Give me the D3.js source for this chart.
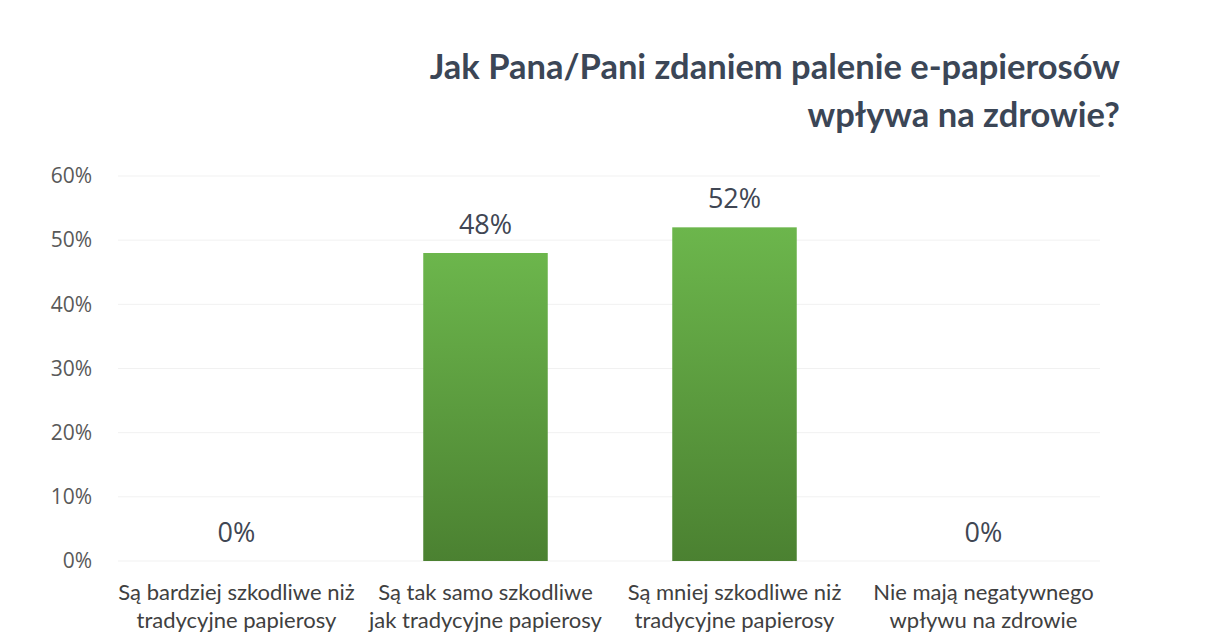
<!DOCTYPE html>
<html><head><meta charset="utf-8">
<script src="https://cdn.jsdelivr.net/npm/d3@7"></script>
<style>
html,body{margin:0;padding:0;background:#fff;}
svg{display:block;}
</style></head>
<body>
<svg id="chart" width="1209" height="632"></svg>
<script>
const titleLines = ["Jak Pana/Pani zdaniem palenie e-papierosów", "wpływa na zdrowie?"];
const categories = [
  ["Są bardziej szkodliwe niż", "tradycyjne papierosy"],
  ["Są tak samo szkodliwe", "jak tradycyjne papierosy"],
  ["Są mniej szkodliwe niż", "tradycyjne papierosy"],
  ["Nie mają negatywnego", "wpływu na zdrowie"]
];
const values = [0, 0.48, 0.52, 0];
const yTicks = [0, 0.1, 0.2, 0.3, 0.4, 0.5, 0.6];

(function(){
const svg = d3.select("#chart");
const defs = svg.append("defs");
const grad = defs.append("linearGradient").attr("id","g").attr("x1",0).attr("y1",0).attr("x2",0).attr("y2",1);
grad.append("stop").attr("offset","0%").attr("stop-color","#6cb64c");
grad.append("stop").attr("offset","100%").attr("stop-color","#4b8131");

const mLeft = 112, mRight = 1108, mTop = 176, mBottom = 561;
const x = d3.scaleBand().domain(d3.range(categories.length)).range([mLeft, mRight]).paddingInner(0.5).paddingOuter(0.25);
const y = d3.scaleLinear().domain([0, 0.6]).range([mBottom, mTop]);

svg.append("g").selectAll("line").data(yTicks).join("line")
  .attr("x1", 118).attr("x2", 1100)
  .attr("y1", d => y(d)).attr("y2", d => y(d))
  .attr("stroke", "#f1f1f1").attr("stroke-width", 1);

const yAxis = d3.axisLeft(y).tickValues(yTicks).tickFormat(d3.format(".0%")).tickSize(0).tickPadding(0);
const ya = svg.append("g").attr("transform", `translate(92,0)`).call(yAxis);
ya.select(".domain").remove();
ya.selectAll("text").attr("font-family","'Open Sans', sans-serif").attr("font-size",21).attr("fill","#595959");

svg.append("g").selectAll("rect").data(values).join("rect")
  .attr("x", (d,i) => x(i)).attr("width", x.bandwidth())
  .attr("y", d => y(d)).attr("height", d => y(0) - y(d))
  .attr("fill", "url(#g)");

svg.append("g").selectAll("text").data(values).join("text")
  .attr("x", (d,i) => x(i) + x.bandwidth()/2)
  .attr("y", d => y(d) - 19)
  .attr("text-anchor","middle")
  .attr("font-family","'Open Sans', sans-serif").attr("font-size",27)
  .attr("fill","#404653")
  .text(d => d3.format(".0%")(d));

const cg = svg.append("g").selectAll("text").data(categories).join("text")
  .attr("text-anchor","middle")
  .attr("font-family","Lato, sans-serif").attr("font-size",22)
  .attr("fill","#404040");
cg.selectAll("tspan").data((d,i) => d.map(t => ({t, i}))).join("tspan")
  .attr("x", d => x(d.i) + x.bandwidth()/2)
  .attr("y", (d,j) => 600 + j*28)
  .text(d => d.t);

svg.append("g").selectAll("text").data(titleLines).join("text")
  .attr("x", 1120).attr("y", (d,i) => 79 + i*48)
  .attr("text-anchor","end")
  .attr("font-family","Lato, sans-serif").attr("font-weight","bold").attr("font-size",34.5)
  .attr("fill","#3b4656")
  .text(d => d);
})();
</script>
</body></html>
